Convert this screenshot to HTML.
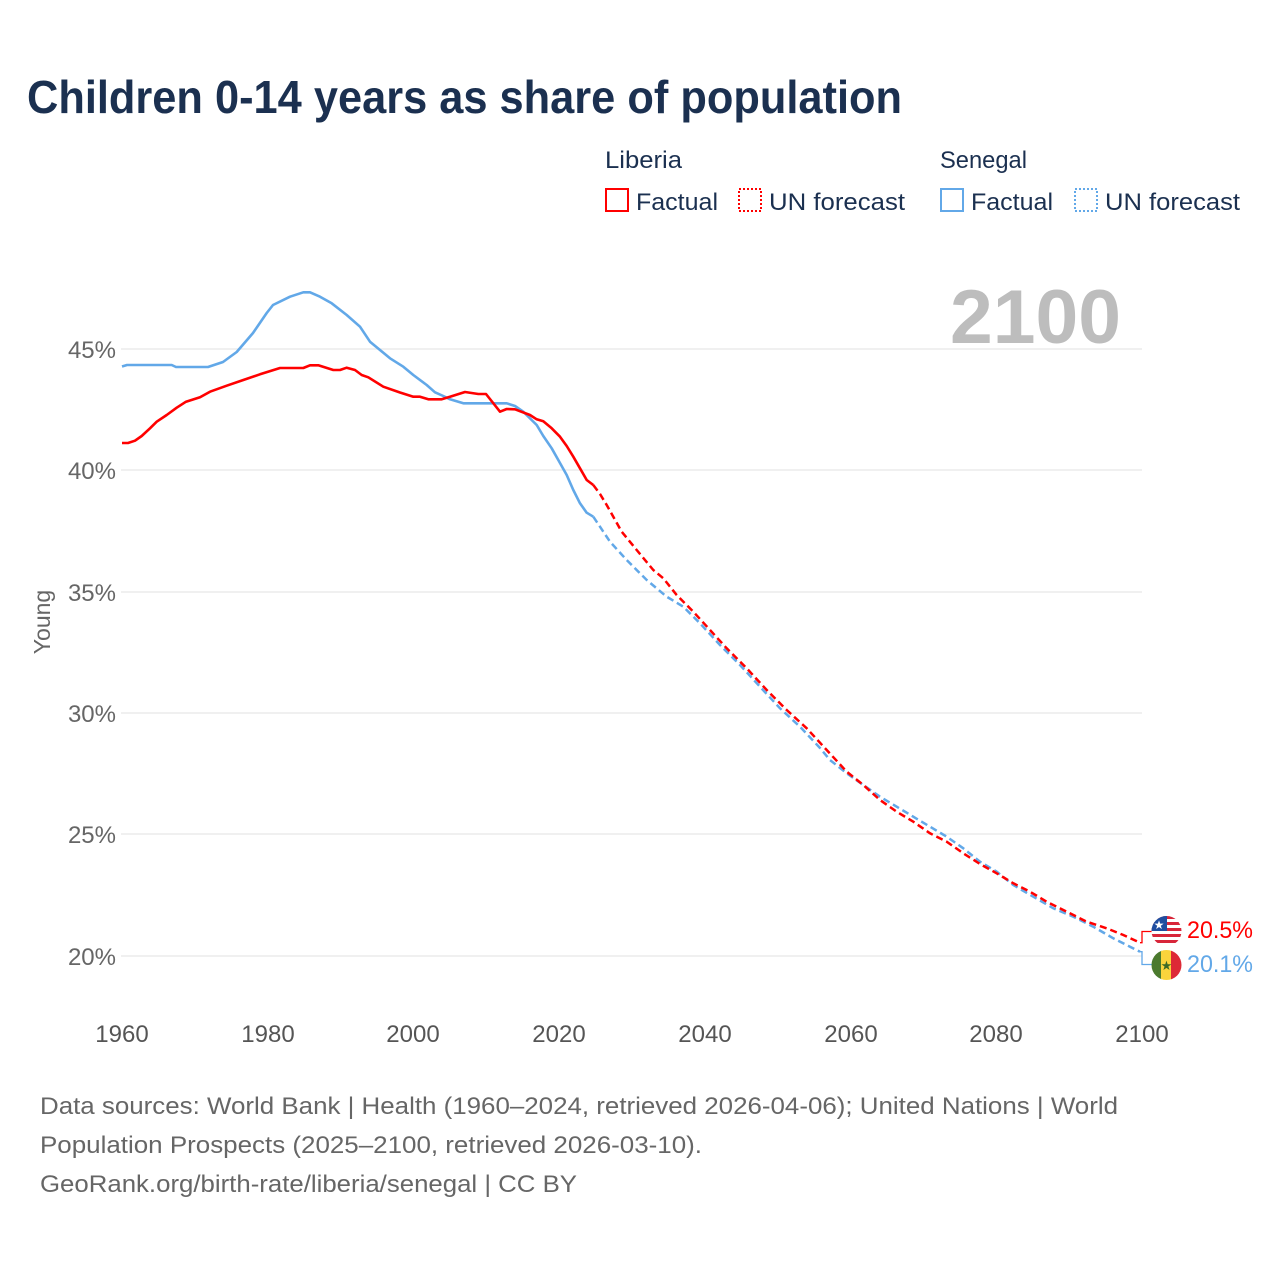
<!DOCTYPE html>
<html>
<head>
<meta charset="utf-8">
<style>
  html,body{margin:0;padding:0;background:#fff;}
  svg{display:block;}
  text{font-family:"Liberation Sans", sans-serif;}
</style>
</head>
<body>
<svg width="1280" height="1280" viewBox="0 0 1280 1280" xmlns="http://www.w3.org/2000/svg">
  <rect width="1280" height="1280" fill="#fff"/>

  <!-- Title -->
  <text x="27" y="113" font-size="46" font-weight="bold" fill="#1b3050" textLength="875" lengthAdjust="spacingAndGlyphs">Children 0-14 years as share of population</text>

  <!-- Legend -->
  <text x="605" y="168" font-size="24" fill="#1b3050" textLength="77" lengthAdjust="spacingAndGlyphs">Liberia</text>
  <rect x="606" y="189" width="22" height="22" fill="none" stroke="#ff0000" stroke-width="2"/>
  <text x="636" y="210" font-size="24" fill="#1b3050" textLength="82" lengthAdjust="spacingAndGlyphs">Factual</text>
  <rect x="739" y="189" width="22" height="22" fill="none" stroke="#ff0000" stroke-width="2" stroke-dasharray="2,2"/>
  <text x="769" y="210" font-size="24" fill="#1b3050" textLength="136" lengthAdjust="spacingAndGlyphs">UN forecast</text>

  <text x="940" y="168" font-size="24" fill="#1b3050" textLength="87" lengthAdjust="spacingAndGlyphs">Senegal</text>
  <rect x="941" y="189" width="22" height="22" fill="none" stroke="#62a8e8" stroke-width="2"/>
  <text x="971" y="210" font-size="24" fill="#1b3050" textLength="82" lengthAdjust="spacingAndGlyphs">Factual</text>
  <rect x="1075" y="189" width="22" height="22" fill="none" stroke="#62a8e8" stroke-width="2" stroke-dasharray="2,2"/>
  <text x="1105" y="210" font-size="24" fill="#1b3050" textLength="135" lengthAdjust="spacingAndGlyphs">UN forecast</text>

  <!-- Gridlines -->
  <g stroke="#e6e6e6" stroke-width="1.3">
    <line x1="121" y1="349" x2="1142" y2="349"/>
    <line x1="121" y1="470" x2="1142" y2="470"/>
    <line x1="121" y1="592" x2="1142" y2="592"/>
    <line x1="121" y1="713" x2="1142" y2="713"/>
    <line x1="121" y1="834" x2="1142" y2="834"/>
    <line x1="121" y1="956" x2="1142" y2="956"/>
  </g>

  <!-- Y labels -->
  <g font-size="24" fill="#666" text-anchor="end">
    <text x="116" y="358">45%</text>
    <text x="116" y="479">40%</text>
    <text x="116" y="601">35%</text>
    <text x="116" y="722">30%</text>
    <text x="116" y="843">25%</text>
    <text x="116" y="965">20%</text>
  </g>
  <text transform="translate(50,622) rotate(-90)" font-size="23" fill="#666" text-anchor="middle">Young</text>

  <!-- X labels -->
  <g font-size="24" fill="#555" text-anchor="middle">
    <text x="122" y="1042">1960</text>
    <text x="268" y="1042">1980</text>
    <text x="413" y="1042">2000</text>
    <text x="559" y="1042">2020</text>
    <text x="705" y="1042">2040</text>
    <text x="851" y="1042">2060</text>
    <text x="996" y="1042">2080</text>
    <text x="1142" y="1042">2100</text>
  </g>

  <!-- Big year -->
  <text x="950" y="343" font-size="76" font-weight="bold" fill="#bdbdbd" textLength="171" lengthAdjust="spacingAndGlyphs">2100</text>

  <!-- Senegal factual -->
  <polyline fill="none" stroke="#62a8e8" stroke-width="2.6" stroke-linejoin="round" points="122,366.5 127,365 171.7,365 176,367 208,367 223,362 236.7,352 253,333 266.7,313 273,305 290,296.7 303.3,292.3 310,292.3 320,296.7 331.7,303.3 346.7,315 360,326.7 370,341.7 380,350 390,358.3 403.3,366.7 413.3,375 426.7,385 435,392.3 443.3,396 450,399.3 463.3,403.3 506.7,403.3 515,406 523.3,411.7 536.7,425 543.3,436 551.7,448.3 558.3,460 566.7,475 573.3,490 580,503.3 586.7,512.7 593.3,516.7"/>
  <!-- Liberia factual -->
  <polyline fill="none" stroke="#ff0000" stroke-width="2.6" stroke-linejoin="round" points="122,443 128,443 135,440.7 141.7,436 150,428.3 156.7,421.7 166.7,415 176.7,407.7 186,401.7 200,397.3 210,391.7 226.7,385.7 243.3,380 260,374.3 280,368 303.3,368 310,365.3 318.3,365.3 333.3,370 340,370 346.7,367.7 355,370 361.7,375 368.3,377.3 383.3,386.7 400,392.5 413.3,396.7 420,396.7 428.3,399.3 441.7,399.3 450,396.7 465,392 478.3,394 486,394 500,411.7 506.7,409 515,409.3 530,415 536.7,419.3 543.3,421.3 551.7,428.3 560,436.7 566.7,446 573.3,456.7 580,468.3 586.7,480 593.3,485"/>

  <!-- Senegal forecast -->
  <polyline fill="none" stroke="#62a8e8" stroke-width="2.5" stroke-dasharray="7,4" points="593.3,516.7 610,541.7 626.7,560 646.7,580 666.7,596.7 683.3,606.7 700,623.3 720,645 740,665 760,686.7 780,708.3 800,726.7 820,748 830,760 846.7,773.3 863.3,785 880,796.7 896.7,806.7 913.3,816.7 930,826.7 946.7,836.7 963.3,848.3 980,861.7 996.7,871.7 1013.3,885 1033.3,896.7 1053.3,908.3 1073.3,916.7 1093.3,926.7 1113.3,938.3 1130,946.7 1140,951.7"/>
  <!-- Liberia forecast -->
  <polyline fill="none" stroke="#ff0000" stroke-width="2.5" stroke-dasharray="7,4" points="593.3,485 600,494 606.7,505 621.7,531.7 636.7,550 653.3,570 663.3,578.3 676.7,595 693.3,611.7 710,630 726.7,648.3 746.7,668.3 766.7,690 786.7,710 806.7,728.3 826.7,750 846.7,771.7 863.3,785 880,800 896.7,811.7 913.3,821.7 930,833.3 946.7,841.7 963.3,853.3 980,864 996.7,873.3 1013.3,883.3 1030,891.7 1046.7,901.7 1066.7,911.7 1086.7,921.7 1106.7,928.3 1123.3,935 1140,942.7"/>

  <!-- Connectors -->
  <polyline fill="none" stroke="#ff0000" stroke-width="1.3" points="1140,942.7 1142,942.7 1142,931.5 1152,931.5"/>
  <polyline fill="none" stroke="#62a8e8" stroke-width="1.3" points="1140,951.7 1142,951.7 1142,964.5 1152,964.5"/>

  <defs>
    <clipPath id="c1"><circle cx="1166.5" cy="931" r="15"/></clipPath>
    <clipPath id="c2"><circle cx="1166.5" cy="965" r="15"/></clipPath>
  </defs>
  <!-- Liberia flag -->
  <g clip-path="url(#c1)">
    <rect x="1151" y="916" width="31" height="31" fill="#fff"/>
    <rect x="1151" y="916" width="31" height="3" fill="#d8263a"/>
    <rect x="1151" y="922" width="31" height="3" fill="#d8263a"/>
    <rect x="1151" y="928" width="31" height="3" fill="#d8263a"/>
    <rect x="1151" y="934" width="31" height="3" fill="#d8263a"/>
    <rect x="1151" y="940" width="31" height="3" fill="#d8263a"/>
    <rect x="1151" y="916" width="16" height="15" fill="#1f4ea0"/>
    <text x="1159" y="929" font-size="12" fill="#fff" text-anchor="middle">★</text>
  </g>
  <!-- Senegal flag -->
  <g clip-path="url(#c2)">
    <rect x="1151" y="950" width="11" height="31" fill="#4b7a2e"/>
    <rect x="1161" y="950" width="11" height="31" fill="#fbd43c"/>
    <rect x="1171" y="950" width="12" height="31" fill="#dd2a36"/>
    <text x="1166.5" y="970" font-size="13" fill="#3d6a26" text-anchor="middle">★</text>
  </g>

  <text x="1187" y="938" font-size="24" fill="#ff0000" textLength="66" lengthAdjust="spacingAndGlyphs">20.5%</text>
  <text x="1187" y="972" font-size="24" fill="#62a8e8" textLength="66" lengthAdjust="spacingAndGlyphs">20.1%</text>

  <!-- Footer -->
  <g font-size="24" fill="#666">
    <text x="40" y="1114" textLength="1078" lengthAdjust="spacingAndGlyphs">Data sources: World Bank | Health (1960–2024, retrieved 2026-04-06); United Nations | World</text>
    <text x="40" y="1153" textLength="662" lengthAdjust="spacingAndGlyphs">Population Prospects (2025–2100, retrieved 2026-03-10).</text>
    <text x="40" y="1192" textLength="537" lengthAdjust="spacingAndGlyphs">GeoRank.org/birth-rate/liberia/senegal | CC BY</text>
  </g>
</svg>
</body>
</html>
